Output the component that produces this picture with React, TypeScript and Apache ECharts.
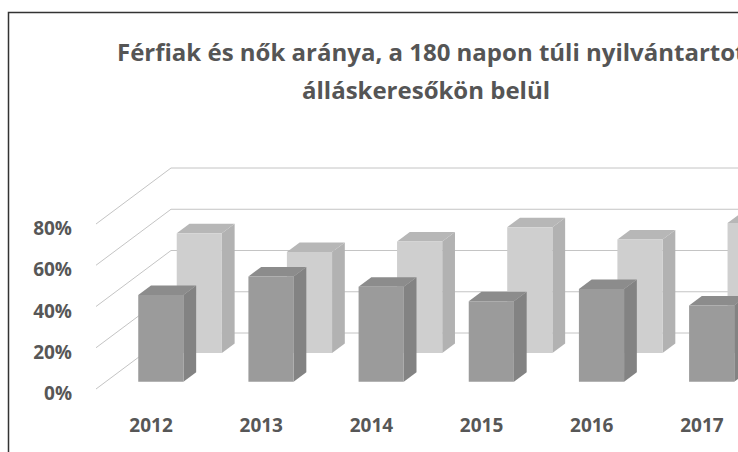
import React, { useEffect, useRef } from "react";
import * as echarts from "echarts";

const categories = ["2012", "2013", "2014", "2015", "2016", "2017"];
const ferfiak = [42, 51, 46, 39, 45, 37];
const nok = [58, 49, 54, 61, 55, 63];
const yTicks = [0, 20, 40, 60, 80];
const titleLines = [
  "Férfiak és nők aránya, a 180 napon túli nyilvántartott",
  "álláskeresőkön belül",
];

const DX = 75;
const DY = -56;
const T = 0.17;
const FONT = "'Open Sans', Lato, sans-serif";
const TEXT = "#575757";

function barRenderer(d0: number, front: string, topC: string, side: string) {
  return (params: any, api: any) => {
    const xi = api.value(0);
    const v = api.value(1);
    const base = api.coord([xi, 0]);
    const top = api.coord([xi, v]);
    const band = api.size([1, 0])[0];
    const hw = band * 0.205;
    const ox = d0 * DX;
    const oy = d0 * DY;
    const tx = T * DX;
    const ty = T * DY;
    const L = base[0] - hw + ox;
    const R = base[0] + hw + ox;
    const B = base[1] + oy;
    const Tp = top[1] + oy;
    return {
      type: "group",
      children: [
        {
          type: "polygon",
          shape: { points: [[R, Tp], [R, B], [R + tx, B + ty], [R + tx, Tp + ty]] },
          style: { fill: side },
        },
        {
          type: "polygon",
          shape: { points: [[L, Tp], [R, Tp], [R + tx, Tp + ty], [L + tx, Tp + ty]] },
          style: { fill: topC },
        },
        {
          type: "rect",
          shape: { x: L, y: Tp, width: R - L, height: B - Tp },
          style: { fill: front },
        },
      ],
    };
  };
}

function gridRenderer(params: any, api: any) {
  const v = api.value(1);
  const p = api.coord([0, v]);
  const cs = params.coordSys;
  const gx = cs.x;
  const y = p[1];
  return {
    type: "polyline",
    shape: {
      points: [
        [gx, y],
        [gx + DX, y + DY],
        [gx + cs.width + DX + 200, y + DY],
      ],
    },
    style: { stroke: "#c4c4c4", lineWidth: 1, fill: "none" },
  };
}

export default function App() {
  const ref = useRef<HTMLDivElement>(null);
  useEffect(() => {
    if (!ref.current) return;
    const chart = echarts.init(ref.current, null, { renderer: "svg" });
    chart.setOption({
      animation: false,
      backgroundColor: "#ffffff",
      grid: {
        left: 96,
        top: 224,
        width: 661,
        height: 165,
        containLabel: false,
        outerBoundsMode: "none",
      },
      xAxis: {
        type: "category",
        data: categories,
        axisLine: { show: false },
        axisTick: { show: false },
        axisLabel: {
          color: TEXT,
          fontFamily: FONT,
          fontWeight: "bold",
          fontSize: 19,
          margin: 26,
        },
      },
      yAxis: {
        type: "value",
        min: 0,
        max: 80,
        interval: 20,
        axisLine: { show: false },
        axisTick: { show: false },
        splitLine: { show: false },
        axisLabel: {
          formatter: "{value}%",
          color: TEXT,
          fontFamily: FONT,
          fontWeight: "bold",
          fontSize: 19,
          margin: 24,
          verticalAlign: "top",
          lineHeight: 8,
        },
      },
      graphic: [
        {
          type: "rect",
          shape: { x: 8.5, y: 12.5, width: 900, height: 600 },
          style: { fill: "none", stroke: "#333333", lineWidth: 1.5 },
          z: 100,
        },
        {
          type: "text",
          x: 117,
          y: 51,
          style: {
            text: titleLines[0],
            fill: "#555555",
            font: `bold 24px ${FONT}`,
            textAlign: "left",
            textVerticalAlign: "middle",
          },
        },
        {
          type: "text",
          x: 426,
          y: 89,
          style: {
            text: titleLines[1],
            fill: "#555555",
            font: `bold 24px ${FONT}`,
            textAlign: "center",
            textVerticalAlign: "middle",
          },
        },
      ],
      series: [
        {
          type: "custom",
          name: "grid",
          data: yTicks.map((v) => [0, v]),
          renderItem: gridRenderer,
          silent: true,
          z: 1,
        },
        {
          type: "custom",
          name: "Nők",
          data: nok.map((v, i) => [i, v]),
          renderItem: barRenderer(0.643, "#cfcfcf", "#b7b7b7", "#b2b2b2"),
          z: 2,
        },
        {
          type: "custom",
          name: "Férfiak",
          data: ferfiak.map((v, i) => [i, v]),
          renderItem: barRenderer(0.13, "#9b9b9b", "#8c8c8c", "#838383"),
          z: 3,
        },
      ],
    });
    return () => chart.dispose();
  }, []);
  return (
    <div
      ref={ref}
      style={{ position: "fixed", left: 0, top: 0, width: 738, height: 452 }}
    />
  );
}
